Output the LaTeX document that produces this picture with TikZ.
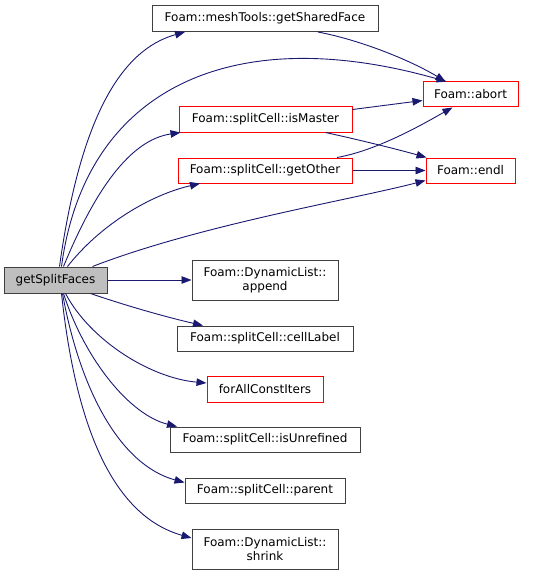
\documentclass[tikz,border=0pt]{standalone}
\usepackage{fontspec}
\setmainfont{DejaVu Sans}
\usetikzlibrary{arrows.meta}
\definecolor{edgeblue}{HTML}{191970}
\definecolor{nodegray}{HTML}{404040}
\definecolor{fillgray}{HTML}{BFBFBF}
\tikzset{
  fn/.style={draw=nodegray, line width=1pt, fill=white, inner sep=0pt, align=center,
    font=\fontsize{12}{14}\selectfont},
  trunc/.style={fn, draw=red},
  cur/.style={fn, fill=fillgray},
  call/.style={draw=edgeblue, line width=0.9pt, -{Triangle[length=10pt,width=7.5pt]}, fill=none},
}
\begin{document}
\begin{tikzpicture}[x=1pt,y=-1pt]
\useasboundingbox (0,0) rectangle (553,575);
% nodes
\node[cur, minimum width=103pt, minimum height=26pt] (gsfc) at (55.5,280) {getSplitFaces};
\node[fn, minimum width=226pt, minimum height=26pt] (shared) at (265,18.5) {Foam::meshTools::getSharedFace};
\node[trunc, minimum width=95pt, minimum height=25pt] (abort) at (470.5,94.5) {Foam::abort};
\node[trunc, minimum width=173pt, minimum height=25pt] (ismaster) at (265.5,119.5) {Foam::splitCell::isMaster};
\node[trunc, minimum width=174pt, minimum height=25pt] (getother) at (265,170.5) {Foam::splitCell::getOther};
\node[trunc, minimum width=89pt, minimum height=25pt] (endl) at (470.5,170.5) {Foam::endl};
\node[fn, minimum width=146pt, minimum height=40pt] (append) at (265,280) {Foam::DynamicList::\\append};
\node[fn, minimum width=176pt, minimum height=25pt] (celllabel) at (265,338.5) {Foam::splitCell::cellLabel};
\node[trunc, minimum width=116pt, minimum height=26pt] (forall) at (265,389) {forAllConstIters};
\node[fn, minimum width=190pt, minimum height=25pt] (isunref) at (265,439.5) {Foam::splitCell::isUnrefined};
\node[fn, minimum width=160pt, minimum height=25pt] (parent) at (265,490.5) {Foam::splitCell::parent};
\node[fn, minimum width=146pt, minimum height=40pt] (shrink) at (265,549) {Foam::DynamicList::\\shrink};
% edges from getSplitFaces
\draw[call] ([xshift=4pt]gsfc.north) .. controls (80,120) and (120,50) .. ([xshift=-80pt]shared.south);
\draw[call] ([xshift=6pt]gsfc.north) .. controls (85,90) and (230,20) .. ([xshift=-24pt]abort.north);
\draw[call] ([xshift=8pt]gsfc.north) .. controls (95,190) and (130,140) .. ([xshift=-85pt]ismaster.south);
\draw[call] ([xshift=12pt]gsfc.north) .. controls (100,225) and (150,195) .. ([xshift=-65pt]getother.south);
\draw[call] ([xshift=37pt]gsfc.north) .. controls (200,225) and (350,200) .. ([yshift=3pt]endl.south west);
\draw[call] (gsfc.east) -- (append.west);
\draw[call] ([xshift=35pt]gsfc.south) .. controls (130,307) and (170,318) .. ([xshift=-62pt]celllabel.north);
\draw[call] ([xshift=10pt]gsfc.south) .. controls (90,340) and (150,378) .. ([yshift=6pt]forall.west);
\draw[call] ([xshift=8pt]gsfc.south) .. controls (85,360) and (130,415) .. ([xshift=-88pt]isunref.north);
\draw[call] ([xshift=7pt]gsfc.south) .. controls (80,390) and (120,465) .. ([yshift=8pt]parent.west);
\draw[call] ([xshift=6pt]gsfc.south) .. controls (75,420) and (110,515) .. ([yshift=11pt]shrink.west);
% edges among callees
\draw[call] ([xshift=53pt]shared.south) .. controls (360,40) and (410,60) .. ([xshift=-25pt]abort.north);
\draw[call] ([yshift=10pt]ismaster.east) -- ([yshift=-6pt]abort.west);
\draw[call] ([xshift=60pt]ismaster.south) .. controls (360,140) and (400,150) .. ([xshift=-44pt]endl.north);
\draw[call] ([xshift=72pt]getother.north) .. controls (380,150) and (430,120) .. ([xshift=-18pt]abort.south);
\draw[call] (getother.east) -- (endl.west);
\end{tikzpicture}
\end{document}
